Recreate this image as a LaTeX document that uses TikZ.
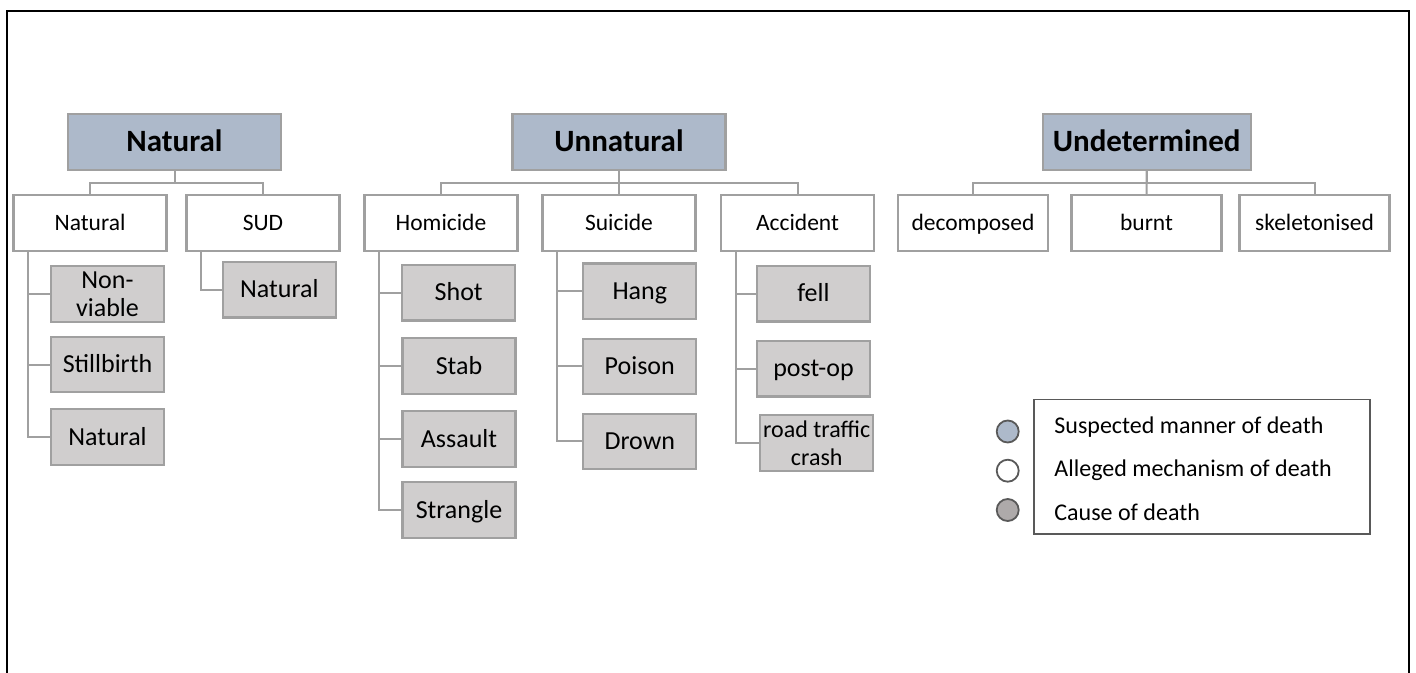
\documentclass[tikz,border=0pt]{standalone}
\usepackage{fontspec}
\setmainfont{Carlito}
\definecolor{hBlue}{HTML}{ADB9CA}
\definecolor{cGray}{HTML}{D0CECE}
\definecolor{lGray}{HTML}{A0A0A0}
\definecolor{dGray}{HTML}{AEAAAA}
\definecolor{kGray}{HTML}{595959}

\tikzstyle{bS}=[rectangle,draw=lGray,line width=1.1pt,inner sep=0pt,align=center]
\tikzstyle{hS}=[bS,fill=hBlue,minimum width=106.5pt,minimum height=28pt,font=\fontsize{15.5}{18}\selectfont\bfseries,text height=9.8pt,text depth=0pt]
\tikzstyle{nS}=[bS,fill=white,minimum width=76.5pt,minimum height=28pt,font=\fontsize{11.75}{14}\selectfont,text height=7.4pt,text depth=0pt]
\tikzstyle{gS}=[bS,fill=cGray,minimum width=56.5pt,minimum height=27.7pt,font=\fontsize{13}{14}\selectfont,text height=8.2pt,text depth=0pt]
\tikzstyle{g2S}=[bS,fill=cGray,minimum width=56.5pt,minimum height=27.7pt,font=\fontsize{13}{14}\selectfont]
\tikzstyle{cS}=[draw=lGray,line width=1pt]
\tikzstyle{lgS}=[rectangle,draw=kGray,line width=0.85pt,minimum width=168pt,minimum height=67.2pt,inner sep=0pt]
\tikzstyle{cirS}=[circle,draw=kGray,line width=0.9pt,minimum size=11pt,inner sep=0pt]
\tikzstyle{tS}=[inner sep=0pt,font=\fontsize{12}{14}\selectfont]

\begin{document}
\begin{tikzpicture}[x=0.5pt,y=-0.5pt]
                \useasboundingbox (0,0) rectangle (1416,673);
                \draw[line width=1.15pt] (7,673) -- (7,11) -- (1409,11) -- (1409,673);
                % manner of death
                \draw (174.5,142) node[hS] (hNat) {Natural};
                \draw (619,142) node[hS] (hUnn) {Unnatural};
                \draw (1146.7,142) node[hS,minimum width=104pt] (hUnd) {Undetermined};
                % mechanism
                \draw (90,223) node[nS] (nNat) {Natural};
                \draw (263,223) node[nS] (nSUD) {SUD};
                \draw (441,223) node[nS] (nHom) {Homicide};
                \draw (619,223) node[nS] (nSui) {Suicide};
                \draw (797.5,223) node[nS] (nAcc) {Accident};
                \draw (973,223) node[nS,minimum width=75pt] (nDec) {decomposed};
                \draw (1146.5,223) node[nS,minimum width=75pt] (nBur) {burnt};
                \draw (1314.5,223) node[nS,minimum width=75pt] (nSke) {skeletonised};
                % cause
                \draw (107.5,294) node[g2S] (gNV) {Non-\\viable};
                \draw (107.5,364.5) node[gS] (gStill) {Stillbirth};
                \draw (107.5,437) node[gS] (gNat) {Natural};
                \draw (279.3,289.7) node[gS] (gSUD) {Natural};
                \draw (458.7,292.7) node[gS] (gShot) {Shot};
                \draw (459,366) node[gS] (gStab) {Stab};
                \draw (459,439) node[gS] (gAss) {Assault};
                \draw (459,510) node[gS] (gStr) {Strangle};
                \draw (639.8,291.3) node[gS] (gHang) {Hang};
                \draw (639.8,366.3) node[gS] (gPois) {Poison};
                \draw (639.8,441.3) node[gS] (gDrown) {Drown};
                \draw (813.5,293.7) node[gS] (gFell) {fell};
                \draw (813.5,368.7) node[gS] (gPost) {post-op};
                \draw (816.7,443) node[g2S,font=\fontsize{12}{13.8}\selectfont] (gRoad) {road traffic\\crash};
                % tree lines
                \draw[cS] (hNat.south) -- ++(0,12) -| (nNat.north);
                \draw[cS] (hNat.south) -- ++(0,12) -| (nSUD.north);
                \draw[cS] (hUnn.south) -- ++(0,12) -| (nHom.north);
                \draw[cS] (hUnn.south) -- (nSui.north);
                \draw[cS] (hUnn.south) -- ++(0,12) -| (nAcc.north);
                \draw[cS] (hUnd.south) -- ++(0,12) -| (nDec.north);
                \draw[cS] (hUnd.south) -- (nBur.north);
                \draw[cS] (hUnd.south) -- ++(0,12) -| (nSke.north);
                \draw[cS] (nNat.south west) ++(16,0) |- (gNV.west);
                \draw[cS] (nNat.south west) ++(16,0) |- (gStill.west);
                \draw[cS] (nNat.south west) ++(16,0) |- (gNat.west);
                \draw[cS] (nSUD.south west) ++(16,0) |- (gSUD.west);
                \draw[cS] (nHom.south west) ++(16,0) |- (gShot.west);
                \draw[cS] (nHom.south west) ++(16,0) |- (gStab.west);
                \draw[cS] (nHom.south west) ++(16,0) |- (gAss.west);
                \draw[cS] (nHom.south west) ++(16,0) |- (gStr.west);
                \draw[cS] (nSui.south west) ++(16,0) |- (gHang.west);
                \draw[cS] (nSui.south west) ++(16,0) |- (gPois.west);
                \draw[cS] (nSui.south west) ++(16,0) |- (gDrown.west);
                \draw[cS] (nAcc.south west) ++(16,0) |- (gFell.west);
                \draw[cS] (nAcc.south west) ++(16,0) |- (gPost.west);
                \draw[cS] (nAcc.south west) ++(16,0) |- (gRoad.west);
                % legend
                \draw (1202.2,466.7) node[lgS] (lgd) {};
                \draw (1007.7,431.5) node[cirS,fill=hBlue] (c1) {};
                \draw (1007.7,470.7) node[cirS,fill=white] (c2) {};
                \draw (1007.7,510) node[cirS,fill=dGray] (c3) {};
                \draw (1054,433) node[tS,anchor=base west] (t1) {Suspected manner of death};
                \draw (1054,476.7) node[tS,anchor=base west] (t2) {Alleged mechanism of death};
                \draw (1054,520) node[tS,anchor=base west] (t3) {Cause of death};
        \end{tikzpicture}
\end{document}
